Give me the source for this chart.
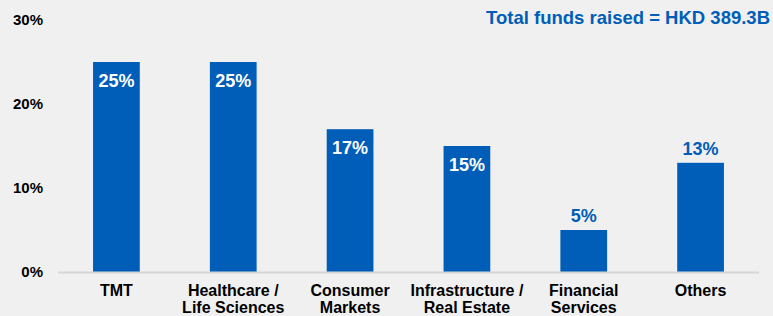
<!DOCTYPE html>
<html>
<head>
<meta charset="utf-8">
<script src="https://cdn.jsdelivr.net/npm/d3@7"></script>
<style>
  body { margin: 0; background: #f0f0f0; }
  svg { display: block; font-family: "Liberation Sans", Arial, sans-serif; font-weight: bold; }
</style>
</head>
<body>
<div id="chart"></div>
<script>
// Share of funds raised by sector
const categories = [
  ["TMT"],
  ["Healthcare /", "Life Sciences"],
  ["Consumer", "Markets"],
  ["Infrastructure /", "Real Estate"],
  ["Financial", "Services"],
  ["Others"],
];
const shares = [25, 25, 17, 15, 5, 13];
const yTicks = [0, 10, 20, 30];
const title = "Total funds raised = HKD 389.3B";

const blue = "#005eb8";
const width = 773;
const height = 316;
const margin = { top: 20, right: 14, bottom: 44, left: 58 };

const svg = d3
  .select("#chart")
  .append("svg")
  .attr("width", width)
  .attr("height", height);

const keys = categories.map((c) => c.join(" "));

const x = d3
  .scaleBand()
  .domain(keys)
  .range([margin.left, width - margin.right])
  .paddingInner(0.6)
  .paddingOuter(0.3);

const y = d3
  .scaleLinear()
  .domain([0, 30])
  .range([height - margin.bottom, margin.top]);

// y tick labels (no axis line)
svg
  .append("g")
  .selectAll("text")
  .data(yTicks)
  .enter()
  .append("text")
  .attr("x", 43)
  .attr("y", (d) => y(d))
  .attr("dy", "0.35em")
  .attr("text-anchor", "end")
  .style("font-size", "15px")
  .attr("fill", "#000")
  .text((d) => d + "%");

// bars
svg
  .selectAll(".bar")
  .data(shares)
  .enter()
  .append("rect")
  .attr("class", "bar")
  .attr("x", (d, i) => x(keys[i]))
  .attr("y", (d) => y(d))
  .attr("width", x.bandwidth())
  .attr("height", (d) => y(0) - y(d))
  .attr("fill", blue);

// baseline
svg
  .append("line")
  .attr("x1", margin.left)
  .attr("x2", width - margin.right)
  .attr("y1", y(0) + 0.5)
  .attr("y2", y(0) + 0.5)
  .attr("stroke", "#d6d6d6")
  .attr("stroke-width", 2);

// value labels: inside for tall bars, above for short ones
svg
  .selectAll(".val")
  .data(shares)
  .enter()
  .append("text")
  .attr("class", "val")
  .attr("x", (d, i) => x(keys[i]) + x.bandwidth() / 2)
  .attr("y", (d) => (d >= 15 ? y(d) + 25 : y(d) - 8))
  .attr("text-anchor", "middle")
  .style("font-size", "18px")
  .attr("fill", (d) => (d >= 15 ? "#fff" : blue))
  .text((d) => d + "%");

// category labels
const cat = svg
  .selectAll(".cat")
  .data(categories)
  .enter()
  .append("text")
  .attr("class", "cat")
  .attr("text-anchor", "middle")
  .style("font-size", "16px")
  .attr("fill", "#000");

cat
  .selectAll("tspan")
  .data((d) => d.map((line) => ({ line, key: d.join(" ") })))
  .enter()
  .append("tspan")
  .attr("x", (d) => x(d.key) + x.bandwidth() / 2)
  .attr("y", (d, i) => 296 + i * 17)
  .text((d) => d.line);

// title
svg
  .append("text")
  .attr("x", 770)
  .attr("y", 24)
  .attr("text-anchor", "end")
  .style("font-size", "18.5px")
  .attr("fill", blue)
  .text(title);
</script>
</body>
</html>
